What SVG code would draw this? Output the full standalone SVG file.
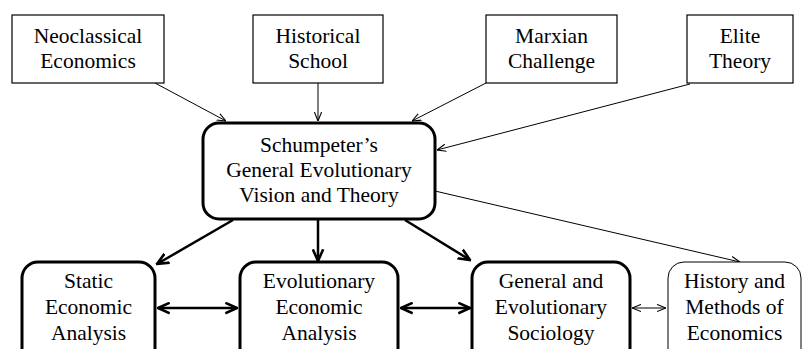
<svg xmlns="http://www.w3.org/2000/svg" width="803" height="349" viewBox="0 0 803 349">
<defs>
<style>
text{font-family:"Liberation Serif","Times New Roman",serif;font-size:21.5px;fill:#000;text-anchor:middle}
.box{fill:#fff;stroke:#000;stroke-width:1.2}
.thick{fill:#fff;stroke:#000;stroke-width:3}
.thin{fill:#fff;stroke:#000;stroke-width:1}
.c1{stroke:#000;stroke-width:1;fill:none}
.c2{stroke:#000;stroke-width:2.5;fill:none}
</style>
<marker id="a1" viewBox="0 0 10 10" refX="10" refY="5" markerWidth="9" markerHeight="9" markerUnits="userSpaceOnUse" orient="auto-start-reverse"><path d="M0,1 L10,5 L0,9" fill="none" stroke="#000" stroke-width="1.2"/></marker>
<marker id="a2" viewBox="0 0 10 10" refX="9" refY="5" markerWidth="13" markerHeight="13" markerUnits="userSpaceOnUse" orient="auto-start-reverse"><path d="M0,1 L9,5 L0,9" fill="none" stroke="#000" stroke-width="2"/></marker>
</defs>
<rect width="803" height="349" fill="#fff"/>
<g id="connectors">
<line class="c1" x1="155" y1="83" x2="226" y2="121" marker-end="url(#a1)"/>
<line class="c1" x1="318" y1="83" x2="318" y2="121" marker-end="url(#a1)"/>
<line class="c1" x1="486" y1="83" x2="412" y2="121" marker-end="url(#a1)"/>
<line class="c1" x1="690" y1="84" x2="437" y2="150" marker-end="url(#a1)"/>
<line class="c1" x1="435" y1="191" x2="740" y2="262" marker-end="url(#a1)"/>
<line class="c2" x1="233" y1="220" x2="157" y2="264" marker-end="url(#a2)"/>
<line class="c2" x1="318" y1="220" x2="318" y2="261" marker-end="url(#a2)"/>
<line class="c2" x1="405" y1="220" x2="470" y2="260" marker-end="url(#a2)"/>
<line class="c2" x1="158" y1="308" x2="237" y2="308" marker-start="url(#a2)" marker-end="url(#a2)"/>
<line class="c2" x1="401" y1="308" x2="470" y2="308" marker-start="url(#a2)" marker-end="url(#a2)"/>
<line class="c1" x1="632" y1="308" x2="666" y2="308" marker-start="url(#a1)" marker-end="url(#a1)"/>
</g>
<g id="neoclassical"><rect class="box" x="12" y="15" width="152" height="68"/><text x="88" y="43">Neoclassical</text><text x="88" y="68">Economics</text></g>
<g id="historical"><rect class="box" x="253" y="15" width="130" height="68"/><text x="318" y="43">Historical</text><text x="318" y="68">School</text></g>
<g id="marxian"><rect class="box" x="486" y="15" width="131" height="68"/><text x="551.5" y="43">Marxian</text><text x="551.5" y="68">Challenge</text></g>
<g id="elite"><rect class="box" x="687" y="15" width="106" height="68"/><text x="740" y="43">Elite</text><text x="740" y="68">Theory</text></g>
<g id="schumpeter"><rect class="thick" x="203" y="123" width="232" height="96" rx="16"/><text x="319" y="152">Schumpeter’s</text><text x="319" y="177">General Evolutionary</text><text x="319" y="202">Vision and Theory</text></g>
<g id="static"><rect class="thick" x="22" y="262" width="133" height="110" rx="16"/><text x="88.5" y="288">Static</text><text x="88.5" y="314">Economic</text><text x="88.5" y="340">Analysis</text></g>
<g id="evolutionary"><rect class="thick" x="240" y="262" width="158" height="110" rx="16"/><text x="319" y="288">Evolutionary</text><text x="319" y="314">Economic</text><text x="319" y="340">Analysis</text></g>
<g id="sociology"><rect class="thick" x="472" y="262" width="158" height="110" rx="16"/><text x="551" y="288">General and</text><text x="551" y="314">Evolutionary</text><text x="551" y="340">Sociology</text></g>
<g id="history"><rect class="thin" x="668" y="262" width="133" height="110" rx="16"/><text x="734.5" y="288">History and</text><text x="734.5" y="314">Methods of</text><text x="734.5" y="340">Economics</text></g>
</svg>
